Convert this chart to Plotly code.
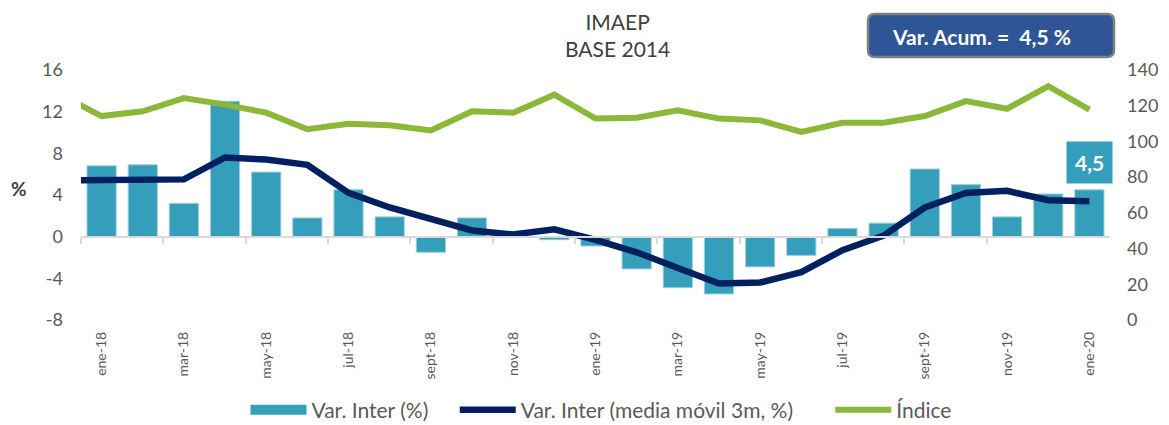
import plotly.graph_objects as go

# ---- data ----
months = ["ene-18", "feb-18", "mar-18", "abr-18", "may-18", "jun-18", "jul-18", "ago-18",
          "sept-18", "oct-18", "nov-18", "dic-18", "ene-19", "feb-19", "mar-19", "abr-19",
          "may-19", "jun-19", "jul-19", "ago-19", "sept-19", "oct-19", "nov-19", "dic-19", "ene-20"]
# previous month (dic-17) only feeds the line segment entering the chart at the left edge
prev_month = "dic-17"

var_inter = [6.8, 6.9, 3.2, 13.0, 6.2, 1.8, 4.5, 1.9, -1.5, 1.8, 0.0, -0.3, -0.9,
             -3.1, -4.9, -5.5, -2.9, -1.8, 0.8, 1.3, 6.5, 5.0, 1.9, 4.1, 4.5]

media_movil_prev = 5.4
media_movil = [5.4, 5.5, 5.5, 7.6, 7.4, 6.9, 4.2, 2.8, 1.7, 0.6, 0.2, 0.7, -0.3,
               -1.5, -3.0, -4.5, -4.4, -3.4, -1.3, 0.1, 2.8, 4.2, 4.4, 3.5, 3.4]

indice_prev = 126.2
indice = [114.2, 116.9, 124.3, 120.6, 116.1, 106.8, 109.9, 109.0, 106.2, 116.9, 116.1,
          126.2, 112.8, 113.3, 117.4, 112.8, 111.8, 105.3, 110.4, 110.5, 114.2, 122.6,
          118.3, 130.9, 117.8]

tick_labels = months[::2]
left_tick_vals = [-8, -4, 0, 4, 8, 12, 16]
left_tick_text = ["-8", "-4", "0", "4", "8", "12", "16"]
right_tick_vals = [0, 20, 40, 60, 80, 100, 120, 140]
var_acum_text = "Var. Acum. =&nbsp; 4,5 %"
last_label = "4,5"
title_lines = ["IMAEP", "BASE 2014"]
legend_names = ["Var. Inter (%)", "Var. Inter (media móvil 3m, %)", "Índice"]

# ---- layout geometry (pixels) ----
W, H = 1169, 425
L, R, T, B = 81, 59, 70, 105
PW, PH = W - L - R, H - T - B
X = lambda p: (p - L) / PW
Y = lambda p: (H - B - p) / PH

xi = list(range(len(months)))
x_lines = [-1] + xi

FONT = "Lato"
GRAY = "#595959"
BAR = "#359EBA"
NAVY = "#002060"
GREEN = "#8CB83A"
NBSP = "&nbsp;"

fig = go.Figure()
fig.add_trace(go.Bar(
    x=xi, y=var_inter, name=legend_names[0], showlegend=False,
    marker=dict(color=BAR, line=dict(color="#9fd0de", width=1)),
    xaxis="x", yaxis="y", hoverinfo="skip"))
# legend entry for the bars (wide swatch like the original)
fig.add_trace(go.Scatter(
    x=[None], y=[None], name=legend_names[0] + NBSP * 4, mode="lines",
    line=dict(color=BAR, width=13), xaxis="x", yaxis="y", hoverinfo="skip"))
fig.add_trace(go.Scatter(
    x=x_lines, y=[media_movil_prev] + media_movil, name=legend_names[1] + NBSP * 6,
    mode="lines", line=dict(color=NAVY, width=6.5), xaxis="x", yaxis="y", hoverinfo="skip"))
fig.add_trace(go.Scatter(
    x=x_lines, y=[indice_prev] + indice, name=legend_names[2],
    mode="lines", line=dict(color=GREEN, width=6), xaxis="x", yaxis="y2", hoverinfo="skip"))
# invisible trace carrying the zero-line axis with boundary ticks
fig.add_trace(go.Scatter(x=[xi[0], xi[-1]], y=[0, 0], mode="lines", line=dict(width=0),
                         showlegend=False, xaxis="x2", yaxis="y", hoverinfo="skip"))

xrange = [-0.5, len(months) - 0.5]
fig.update_layout(
    width=W, height=H,
    margin=dict(l=L, r=R, t=T, b=B, autoexpand=False),
    paper_bgcolor="white", plot_bgcolor="white",
    font=dict(family=FONT, color=GRAY),
    bargap=0.29,
    showlegend=True,
    legend=dict(orientation="h", x=X(601), xanchor="center", y=Y(410), yanchor="middle",
                font=dict(size=21, color=GRAY), itemwidth=56, traceorder="normal"),
    xaxis=dict(range=xrange, tickmode="array", tickvals=xi[::2], ticktext=tick_labels,
               tickangle=-90, tickfont=dict(size=14, color=GRAY), showline=False,
               ticks="", showgrid=False, zeroline=False, ticklabelstandoff=8),
    xaxis2=dict(range=xrange, overlaying="x", anchor="free", position=1/3,
                tickmode="array", tickvals=[v - 0.5 for v in xi[::2][:-1]],
                ticks="outside", ticklen=6, tickwidth=2, tickcolor="#D9D9D9",
                showline=True, linecolor="#D9D9D9", linewidth=2,
                showticklabels=False, showgrid=False, zeroline=False),
    yaxis=dict(range=[-8, 16], tickmode="array", tickvals=left_tick_vals,
               ticktext=left_tick_text, showgrid=False,
               zeroline=False, showline=False, tickfont=dict(size=18, color=GRAY),
               ticklabelstandoff=17),
    yaxis2=dict(range=[0, 140], tickmode="array", tickvals=right_tick_vals, overlaying="y",
                side="right", showgrid=False, zeroline=False, showline=False,
                tickfont=dict(size=18, color=GRAY), ticklabelstandoff=16),
)

# title
fig.add_annotation(text="<br>".join(title_lines), xref="paper", yref="paper",
                   x=X(617), y=Y(35), xanchor="center", yanchor="middle",
                   showarrow=False, font=dict(family=FONT, size=21, color="#404040"))

# % axis label
fig.add_annotation(text="<b>%</b>", xref="paper", yref="paper",
                   x=X(19), y=Y(188), xanchor="center", yanchor="middle",
                   showarrow=False, font=dict(family=FONT, size=19, color="#404040"))

# Var. Acum. rounded box
px0, px1, py0, py1 = 868, 1114, 14, 57
r = 7
path = (f"M {X(px0 + r)},{Y(py0)} L {X(px1 - r)},{Y(py0)} Q {X(px1)},{Y(py0)} {X(px1)},{Y(py0 + r)} "
        f"L {X(px1)},{Y(py1 - r)} Q {X(px1)},{Y(py1)} {X(px1 - r)},{Y(py1)} "
        f"L {X(px0 + r)},{Y(py1)} Q {X(px0)},{Y(py1)} {X(px0)},{Y(py1 - r)} "
        f"L {X(px0)},{Y(py0 + r)} Q {X(px0)},{Y(py0)} {X(px0 + r)},{Y(py0)} Z")
fig.add_shape(type="path", path=path, xref="paper", yref="paper",
              fillcolor="#2F5597", line=dict(color="#7F7F7F", width=2.5), layer="above")
fig.add_annotation(text=f"<b>{var_acum_text}</b>", xref="paper", yref="paper",
                   x=X(981), y=Y(36), xanchor="center", yanchor="middle", showarrow=False,
                   font=dict(family=FONT, size=21, color="white"))

# last value label
fig.add_annotation(text=f"<b>{last_label}</b>", x=xi[-1], y=var_inter[-1], xref="x", yref="y",
                   xanchor="center", yanchor="bottom", yshift=6, showarrow=False,
                   bgcolor=BAR, borderpad=8, font=dict(family=FONT, size=21, color="white"))

fig.write_html("out.html",
               config={"displayModeBar": False},
               post_script="document.body.style.margin='0';"
                           "document.documentElement.style.overflow='hidden';")
